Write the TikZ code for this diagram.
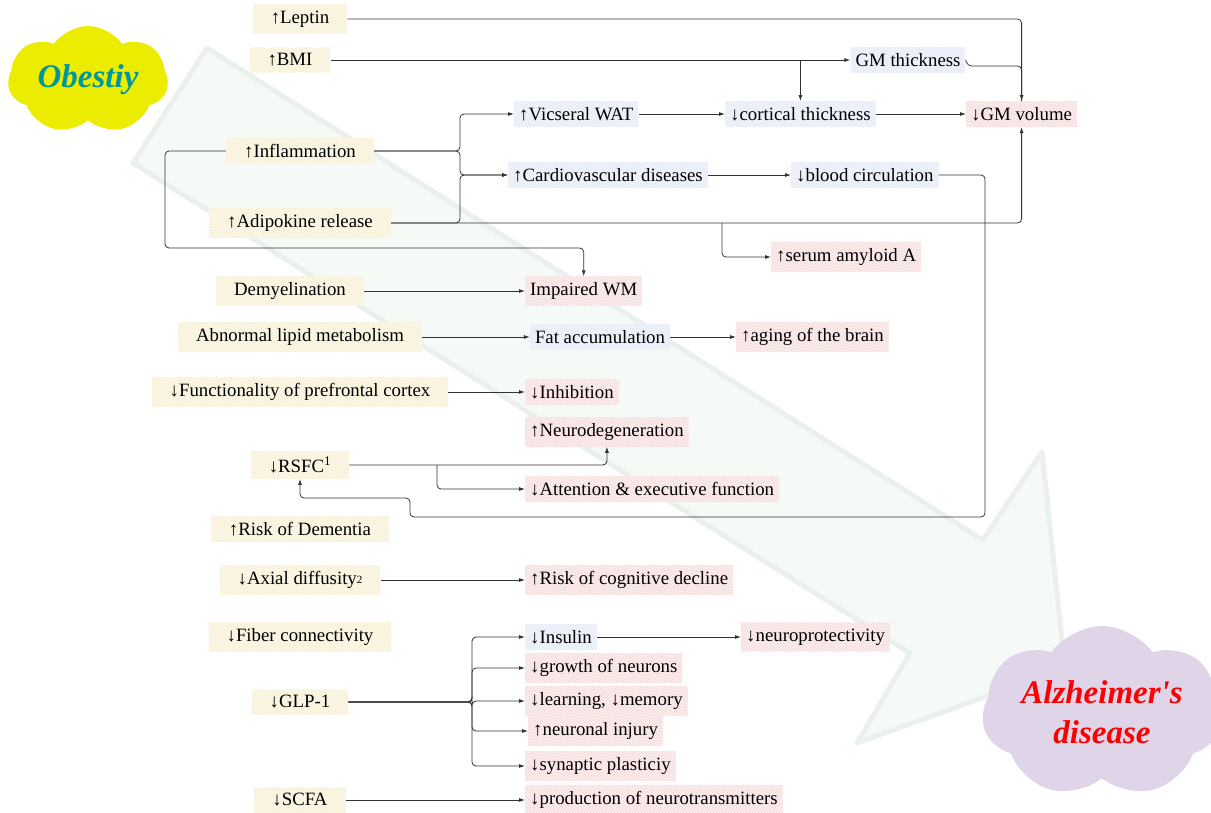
\documentclass[tikz,border=0pt]{standalone}
\usepackage{fontspec}
\setmainfont{Liberation Serif}
\usetikzlibrary{shapes.symbols,patterns,arrows.meta}

\definecolor{yelfill}{HTML}{FDFAEE}
\definecolor{yelhatch}{HTML}{F4E9C6}
\definecolor{bluefill}{HTML}{F3F6FC}
\definecolor{bluehatch}{HTML}{DCE5F4}
\definecolor{pinkfill}{HTML}{FDF2F2}
\definecolor{pinkhatch}{HTML}{F5CFCF}
\definecolor{linegray}{HTML}{333333}
\definecolor{bgarrow}{HTML}{F5FAF6}
\definecolor{bgedge}{HTML}{EAF0EB}
\definecolor{obyellow}{HTML}{ECEC00}
\definecolor{obteal}{HTML}{00979C}
\definecolor{adlilac}{HTML}{E0D5E8}

\begin{document}
\begin{tikzpicture}[x=1pt,y=-1pt,
    txt/.style={font=\fontsize{18.8}{21}\selectfont, inner xsep=5pt, inner ysep=6pt},
    causebox/.style={txt, inner xsep=18pt, pattern=north east lines, pattern color=yelhatch, preaction={fill=yelfill}},
    midbox/.style={txt, pattern=north east lines, pattern color=bluehatch, preaction={fill=bluefill}},
    effectbox/.style={txt, pattern=north east lines, pattern color=pinkhatch, preaction={fill=pinkfill}},
    puff/.style={cloud, cloud puffs=7, cloud puff arc=110, inner sep=0pt},
    link/.style={draw=linegray, line width=0.8pt, rounded corners=4pt},
    flow/.style={link, -{Latex[length=6pt,width=4pt]}}]

\useasboundingbox (0,0) rectangle (1211,812);

% Background arrow.
\draw[fill=bgarrow, draw=bgedge, line width=5pt, line join=round]
    (133,163) -- (207,48) -- (983,540) -- (1042,452) -- (1065,668)
    -- (857,743) -- (910,653) -- cycle;

% Clouds.
\node[puff, fill=obyellow, minimum width=160pt, minimum height=108pt]
    (obcloud) at (88,80) {};
\node[font=\fontsize{33}{36}\selectfont\bfseries\itshape, text=obteal]
    (obesity) at (obcloud.center) {Obestiy};
\node[puff, fill=adlilac, minimum width=240pt, minimum height=172pt]
    (alzcloud) at (1102,712) {};
\node[align=center, font=\fontsize{33}{40}\selectfont\bfseries\itshape, text=red]
    (alz) at (alzcloud.center) {Alzheimer\textquotesingle s\\disease};

% Causes, left column.
\foreach \n/\x/\y/\t in {leptin/300/19/{↑Leptin},
                         bmi/290/60/{↑BMI},
                         inflam/300/151/{↑Inflammation},
                         adipo/300/223/{↑Adipokine release},
                         demyel/290/291/{Demyelination},
                         lipid/300/337/{Abnormal lipid metabolism},
                         prefront/300/392/{↓Functionality of prefrontal cortex},
                         rsfc/300/465/{↓RSFC\textsuperscript{1}},
                         dementia/300/529/{↑Risk of Dementia},
                         axial/300/580/{↓Axial diffusity\raisebox{1pt}{\fontsize{11}{11}\selectfont 2}},
                         fiber/300/637/{↓Fiber connectivity},
                         glp/300/702/{↓GLP-1},
                         scfa/300/800/{↓SCFA}} {
    \node[causebox] (\n) at (\x,\y) {\t};
}

% Intermediate changes.
\node[midbox] (gmthick) at (908,60) {GM thickness};
\node[midbox, anchor=west] (visceral) at (514,114) {↑Vicseral WAT};
\node[midbox, anchor=west] (cortical) at (725,114) {↓cortical thickness};
\node[midbox, anchor=west] (cardio) at (508,175) {↑Cardiovascular diseases};
\node[midbox, anchor=west] (blood) at (791,175) {↓blood circulation};
\node[midbox] (fat) at (600,337) {Fat accumulation};
\node[midbox, anchor=west] (insulin) at (525,637) {↓Insulin};

% Outcomes in the brain.
\foreach \n/\x/\y/\t in {gmvol/966/114/{↓GM volume},
                         serum/771/257/{↑serum amyloid A},
                         impwm/525/291/{Impaired WM},
                         aging/736/337/{↑aging of the brain},
                         inhib/525/392/{↓Inhibition},
                         neurodeg/525/432/{↑Neurodegeneration},
                         attention/525/489/{↓Attention \& executive function},
                         cogn/525/580/{↑Risk of cognitive decline},
                         neuroprot/741/637/{↓neuroprotectivity},
                         growth/525/668/{↓growth of neurons},
                         learn/525/701/{↓learning, ↓memory},
                         injury/528/731/{↑neuronal injury},
                         synaptic/525/766/{↓synaptic plasticiy},
                         product/525/800/{↓production of neurotransmitters}} {
    \node[effectbox, anchor=west] (\n) at (\x,\y) {\t};
}

% Junction points.
\coordinate (jA) at (460,151);
\coordinate (jB) at (460,223);
\coordinate (jC) at (722,223);
\coordinate (jD) at (165,248);
\coordinate (jE) at (985,517);
\coordinate (jF) at (410,498);
\coordinate (jG) at (437,465);
\coordinate (jH) at (472,702);

% Leptin and BMI to grey matter.
\draw[flow] (leptin.east) -| (gmvol.north);
\draw[flow] (bmi.east) -- (gmthick.west);
\draw[flow] (bmi.east -| cortical.north) -- (cortical.north);
\draw[link] (gmthick.east) -- ++(2,6) -| (gmvol.north);

% Inflammation and adipokines.
\draw[flow] (inflam.east) -- (jA) |- (visceral.west);
\draw[flow] (inflam.east) -- (jA) |- (cardio.west);
\draw[flow] (adipo.east) -- (jB) |- (cardio.west);
\draw[flow] (adipo.east) -| (gmvol.south);
\draw[flow] (jC) |- (serum.west);
\draw[flow] (inflam.west) -| (jD) -| (impwm.north);

% Chains to the right.
\draw[flow] (visceral.east) -- (cortical.west);
\draw[flow] (cortical.east) -- (gmvol.west);
\draw[flow] (cardio.east) -- (blood.west);
\draw[flow] (blood.east) -| (jE) -| (jF) -| (rsfc.south);
\draw[flow] (demyel.east) -- (impwm.west);
\draw[flow] (lipid.east) -- (fat.west);
\draw[flow] (fat.east) -- (aging.west);
\draw[flow] (prefront.east) -- (inhib.west);

% RSFC branches.
\draw[flow] (rsfc.east) -| (neurodeg.south);
\draw[flow] (jG) |- (attention.west);

% Lower rows.
\draw[flow] (axial.east) -- (cogn.west);
\draw[flow] (insulin.east) -- (neuroprot.west);
\draw[flow] (scfa.east) -- (product.west);

% GLP-1 fan.
\foreach \t in {insulin,growth,learn,injury,synaptic} {
    \draw[flow] (glp.east) -- (jH) |- (\t.west);
}
\end{tikzpicture}
\end{document}
